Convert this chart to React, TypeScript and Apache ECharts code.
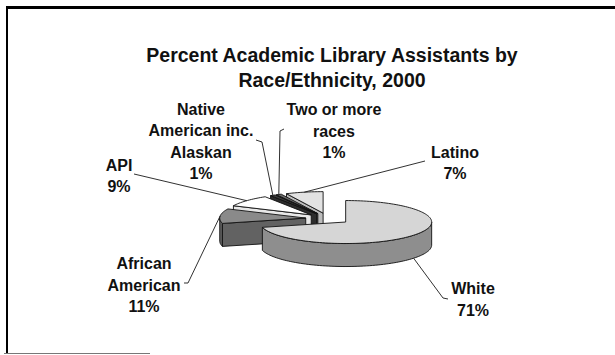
import React, { useEffect, useRef } from "react";
import * as echarts from "echarts";

// Slices in drawing order, clockwise from 12 o'clock
const categories = [
  "White",
  "African\nAmerican",
  "API",
  "Native\nAmerican inc.\nAlaskan",
  "Two or more\nraces",
  "Latino",
];
const percents = [71, 11, 9, 1, 1, 7];

// Face fills for each slice (top face, side walls)
const topFills = ["#d6d6d6", "#8a8a8a", "#ffffff", "#3c3c3c", "#6a6a6a", "#e2e2e2"];
const wallFills = ["#8e8e8e", "#626262", "#e8e8e8", "#2c2c2c", "#505050", "#bcbcbc"];

// Label block centres and the bend points of each leader line
const labelCentres = [
  [473, 299.5],
  [144, 285],
  [119, 176],
  [201, 141.5],
  [334, 131],
  [455, 163],
];
const leaderBends = [
  [[443, 298], [448, 299]],
  [[188, 283], [184, 283]],
  [[134, 174]],
  [[262, 142], [256, 140]],
  [[280, 131], [284, 129]],
  [[425, 161]],
];
// where along the wall height each leader starts (0 = top rim, 1 = bottom rim)
const leaderStartDepth = [1, 0, 0, 0, 0, 0];

const TITLE = "Percent Academic Library Assistants by\nRace/Ethnicity, 2000";

// 3-D pie geometry
const CX = 328;
const CY = 218.6;
const RX = 86;
const RY = 21.5;
const DEPTH = 23;
const EXPLODE = 0.26;

const FONT = '"Liberation Sans", Arial, sans-serif';

const rad = (d: number) => (d * Math.PI) / 180;

function buildOption() {
  const total = percents.reduce((s, v) => s + v, 0);
  let acc = 0;
  const data = percents.map((p, i) => {
    const start = (acc / total) * 360;
    acc += p;
    const end = (acc / total) * 360;
    return { name: categories[i], value: [start, end, p] };
  });

  const renderItem = (params: any, api: any) => {
    const i = params.dataIndex;
    const a1 = api.value(0) as number;
    const a2 = api.value(1) as number;
    const p = api.value(2) as number;
    const mid = (a1 + a2) / 2;
    const ox = EXPLODE * Math.sin(rad(mid));
    const oy = -EXPLODE * Math.cos(rad(mid));
    const P = (theta: number, r: number, z: number) => [
      CX + (ox + r * Math.sin(rad(theta))) * RX,
      CY + (oy - r * Math.cos(rad(theta))) * RY + z,
    ];
    const arc = (from: number, to: number, z: number) => {
      const pts: number[][] = [];
      const n = Math.max(2, Math.ceil(Math.abs(to - from) / 2));
      for (let k = 0; k <= n; k++) pts.push(P(from + ((to - from) * k) / n, 1, z));
      return pts;
    };

    const children: any[] = [];
    const edge = { stroke: "#111", lineWidth: 0.9, lineJoin: "round" };

    // radial wall on the start side
    if (Math.sin(rad(a1)) < -1e-6) {
      const key = oy - 0.5 * Math.cos(rad(a1));
      children.push({
        type: "polygon",
        z2: 50 + key * 20,
        shape: { points: [P(a1, 0, 0), P(a1, 1, 0), P(a1, 1, DEPTH), P(a1, 0, DEPTH)] },
        style: { fill: wallFills[i], ...edge },
      });
    }
    // radial wall on the end side
    if (Math.sin(rad(a2)) > 1e-6) {
      const key = oy - 0.5 * Math.cos(rad(a2));
      children.push({
        type: "polygon",
        z2: 50 + key * 20,
        shape: { points: [P(a2, 0, 0), P(a2, 1, 0), P(a2, 1, DEPTH), P(a2, 0, DEPTH)] },
        style: { fill: wallFills[i], ...edge },
      });
    }
    // outer curved wall, front half only
    const s = Math.max(a1, 90);
    const e = Math.min(a2, 270);
    if (s < e) {
      const key = oy - Math.cos(rad((s + e) / 2)) * 0.8;
      children.push({
        type: "polygon",
        z2: 50 + key * 20,
        shape: { points: [...arc(s, e, 0), ...arc(e, s, DEPTH)] },
        style: { fill: wallFills[i], ...edge },
      });
    }
    // top face
    children.push({
      type: "polygon",
      z2: 200,
      shape: { points: [P(a1, 0, 0), ...arc(a1, a2, 0)] },
      style: { fill: topFills[i], ...edge },
    });

    // leader line and label
    const start = P(mid, 1, DEPTH * leaderStartDepth[i]);
    children.push({
      type: "polyline",
      z2: 300,
      shape: { points: [start, ...leaderBends[i]] },
      style: { stroke: "#1a1a1a", lineWidth: 0.9, fill: null },
    });
    children.push({
      type: "text",
      z2: 300,
      x: labelCentres[i][0],
      y: labelCentres[i][1],
      style: {
        text: `${categories[i]}\n${p}%`,
        align: "center",
        verticalAlign: "middle",
        fill: "#111",
        font: `bold 16px ${FONT}`,
        lineHeight: 21.5,
      },
    });

    return { type: "group", children };
  };

  return {
    animation: false,
    backgroundColor: "#ffffff",
    title: {
      text: TITLE,
      left: 332,
      top: 42,
      padding: 0,
      textAlign: "center",
      textStyle: {
        fontFamily: FONT,
        fontSize: 19.5,
        fontWeight: "bold",
        color: "#111",
        lineHeight: 25.5,
      },
    },
    graphic: [
      { type: "line", shape: { x1: 7, y1: 7.5, x2: 615, y2: 7.5 }, style: { stroke: "#000", lineWidth: 3 } },
      { type: "line", shape: { x1: 7, y1: 6, x2: 7, y2: 353 }, style: { stroke: "#000", lineWidth: 2 } },
      { type: "line", shape: { x1: 4, y1: 353.5, x2: 150, y2: 353.5 }, style: { stroke: "#777", lineWidth: 1 } },
    ],
    series: [
      {
        type: "custom",
        coordinateSystem: "none",
        renderItem,
        data,
      },
    ],
  };
}

export default function App() {
  const ref = useRef<HTMLDivElement>(null);
  useEffect(() => {
    if (!ref.current) return;
    const chart = echarts.init(ref.current, undefined, { renderer: "svg" });
    chart.setOption(buildOption() as any);
    return () => chart.dispose();
  }, []);
  return (
    <div
      ref={ref}
      style={{ position: "fixed", left: 0, top: 0, width: 615, height: 355, background: "#fff" }}
    />
  );
}
